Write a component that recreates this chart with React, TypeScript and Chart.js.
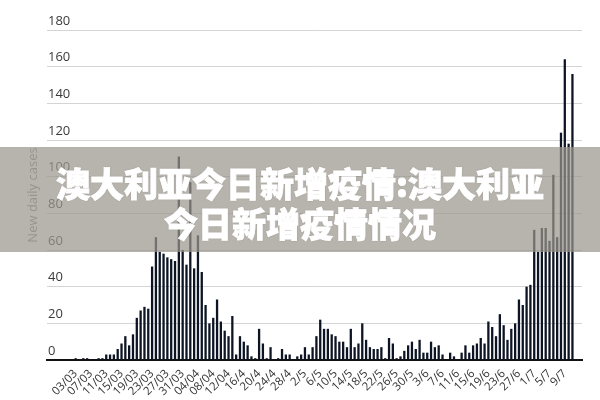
import React, { useEffect, useRef } from "react";
import { Chart, registerables } from "chart.js";

Chart.register(...registerables);

// Daily categories: 25/2 … 13/7 (2020)
const monthSpans: [number, number, number][] = [
  [2, 25, 29],
  [3, 1, 31],
  [4, 1, 30],
  [5, 1, 31],
  [6, 1, 30],
  [7, 1, 13],
];
const categories: string[] = [];
for (const [m, a, b] of monthSpans) {
  for (let d = a; d <= b; d++) categories.push(`${d}/${m}`);
}

// New daily cases by month
const febValues = [0, 0, 0, 0, 0];
const marValues = [
  0, 0, 1, 0, 1, 1, 0, 0, 1, 1, 3, 3, 3, 6, 9, 13, 8, 14, 23, 27, 29, 28, 51, 67,
  59, 58, 56, 55, 54, 111, 60,
];
const aprValues = [
  52, 97, 50, 68, 48, 30, 20, 23, 33, 21, 16, 13, 24, 3, 13, 10, 8, 2, 1, 17, 9,
  1, 7, 0, 1, 6, 3, 3, 0, 2,
];
const mayValues = [
  3, 7, 3, 7, 13, 22, 17, 17, 14, 13, 10, 10, 7, 17, 7, 9, 20, 11, 7, 6, 6, 7, 1,
  12, 9, 1, 2, 5, 8, 10, 6,
];
const junValues = [
  11, 4, 4, 10, 7, 8, 3, 0, 4, 2, 0, 4, 8, 4, 8, 9, 12, 9, 21, 18, 13, 25, 19, 11,
  17, 20, 33, 30, 40, 41,
];
const julValues = [71, 59, 72, 72, 65, 101, 67, 124, 164, 118, 156, 0, 0];

const dailyCases = [
  ...febValues,
  ...marValues,
  ...aprValues,
  ...mayValues,
  ...junValues,
  ...julValues,
];

// Tick labels shown every 4 days, starting at 03/03
const tickLabels = [
  "03/03", "07/03", "11/03", "15/03", "19/03", "23/03", "27/03", "31/03",
  "04/04", "08/04", "12/04", "16/4", "20/4", "24/4", "28/4", "2/5", "6/5",
  "10/5", "14/5", "18/5", "22/5", "26/5", "30/5", "3/6", "7/6", "11/6", "15/6",
  "19/6", "23/6", "27/6", "1/7", "5/7", "9/7",
];
const firstTickIndex = categories.indexOf("3/3");

const yAxisTitle = "New daily cases";
const bannerLine1 = "澳大利亚今日新增疫情:澳大利亚";
const bannerLine2 = "今日新增疫情情况";

export default function App() {
  const ref = useRef<HTMLCanvasElement | null>(null);

  useEffect(() => {
    if (!ref.current) return;
    Chart.defaults.font.family = "'Open Sans', 'DejaVu Sans', sans-serif";
    const chart = new Chart(ref.current, {
      type: "bar",
      data: {
        labels: categories,
        datasets: [
          {
            data: dailyCases,
            backgroundColor: "#0d1524",
            borderWidth: 0,
            barPercentage: 0.6,
            categoryPercentage: 1,
          },
        ],
      },
      options: {
        responsive: false,
        animation: false,
        events: [],
        layout: { padding: { left: 21, right: 18, top: 30, bottom: 0 } },
        plugins: {
          legend: { display: false },
          tooltip: { enabled: false },
        },
        scales: {
          x: {
            grid: { display: false, drawTicks: false },
            border: { display: true, color: "#111111", width: 2 },
            ticks: {
              autoSkip: false,
              minRotation: 45,
              maxRotation: 45,
              padding: 7,
              color: "#333333",
              font: { size: 11.5 },
              callback: (_v: any, i: number) => {
                const k = i - firstTickIndex;
                if (k < 0 || k % 4 !== 0) return "";
                return tickLabels[k / 4] ?? "";
              },
            },
            afterFit: (s: any) => {
              s.height = 40;
            },
          },
          y: {
            min: 0,
            max: 180,
            ticks: {
              stepSize: 20,
              mirror: true,
              padding: 1,
              labelOffset: -9,
              color: "#3a3a3a",
              font: { size: 13 },
            },
            grid: { color: "#d4d4d4", drawTicks: false, lineWidth: 1 },
            border: { display: false },
            title: {
              display: true,
              text: yAxisTitle,
              color: "#8c8c8c",
              font: { size: 13 },
              padding: { top: 4, bottom: 4 },
            },
            afterFit: (s: any) => {
              s.width = 26;
            },
          },
        },
      },
    } as any);
    return () => chart.destroy();
  }, []);

  return (
    <div
      style={{
        position: "fixed",
        left: 0,
        top: 0,
        width: 600,
        height: 400,
        background: "#ffffff",
        overflow: "hidden",
      }}
    >
      <canvas
        ref={ref}
        width={600}
        height={400}
        style={{ display: "block", width: 600, height: 400 }}
      />
      <div
        style={{
          position: "absolute",
          left: 0,
          top: 147,
          width: 600,
          height: 105,
          background: "rgba(155,150,142,0.72)",
          color: "#ffffff",
          fontFamily: "'Noto Sans CJK SC', sans-serif",
          fontWeight: 900,
          fontSize: 34,
          lineHeight: "40px",
          textAlign: "center",
          paddingTop: 16,
          boxSizing: "border-box",
          textShadow: "0 0 2px rgba(0,0,0,0.25)",
          WebkitTextStroke: "0.9px #ffffff",
          letterSpacing: 0,
        }}
      >
        <div>{bannerLine1}</div>
        <div>{bannerLine2}</div>
      </div>
    </div>
  );
}
